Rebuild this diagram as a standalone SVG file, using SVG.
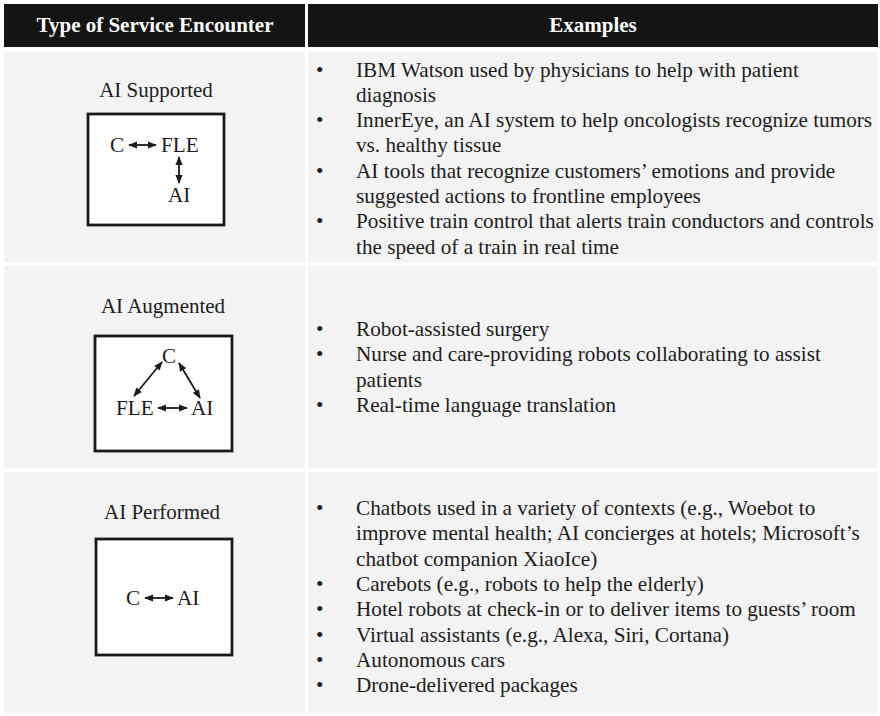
<svg xmlns="http://www.w3.org/2000/svg" width="880" height="716" viewBox="0 0 880 716">
<style>
.hd{fill:#141414}
.cell{fill:#f3f3f3}
.ht{font-family:"Liberation Serif","Times New Roman",serif;font-weight:bold;font-size:21px;fill:#fff;text-anchor:middle}
.t{font-family:"Liberation Serif","Times New Roman",serif;font-size:21.2px;fill:#1c1c1c}
.lb{font-family:"Liberation Serif","Times New Roman",serif;font-size:21px;fill:#1c1c1c;text-anchor:middle}
.box{fill:#fff;stroke:#1a1a1a;stroke-width:2.8}
.ar{stroke:#1a1a1a;stroke-width:1.8;fill:none;marker-start:url(#ah);marker-end:url(#ah)}
</style>
<defs>
<marker id="ah" viewBox="0 0 10 8" refX="9" refY="4" markerWidth="5" markerHeight="4.4" orient="auto-start-reverse"><path d="M0,0L10,4L0,8z" fill="#1a1a1a"/></marker>
</defs>
<rect width="880" height="716" fill="#fff"/>
<g id="header">
<rect class="hd" x="4" y="4" width="301" height="43"/>
<rect class="hd" x="308" y="4" width="570" height="43"/>
<text class="ht" x="155" y="32">Type of Service Encounter</text>
<text class="ht" x="593" y="32">Examples</text>
</g>
<g id="row1">
<rect class="cell" x="4" y="52" width="301" height="210"/>
<rect class="cell" x="308" y="52" width="570" height="210"/>
<text class="lb" x="156" y="97">AI Supported</text>
<g id="box1">
<rect class="box" x="88" y="114" width="136" height="111"/>
<text class="t" x="110" y="152">C</text>
<text class="t" x="161" y="152">FLE</text>
<text class="t" x="168" y="202">AI</text>
</g>
<g class="t">
<text x="316" y="76.5">•</text><text x="356" y="76.5">IBM Watson used by physicians to help with patient</text>
<text x="356" y="101.8">diagnosis</text>
<text x="316" y="127.1">•</text><text x="356" y="127.1">InnerEye, an AI system to help oncologists recognize tumors</text>
<text x="356" y="152.4">vs. healthy tissue</text>
<text x="316" y="177.7">•</text><text x="356" y="177.7">AI tools that recognize customers’ emotions and provide</text>
<text x="356" y="203">suggested actions to frontline employees</text>
<text x="316" y="228.3">•</text><text x="356" y="228.3">Positive train control that alerts train conductors and controls</text>
<text x="356" y="253.6">the speed of a train in real time</text>
</g>
</g>
<g id="row2">
<rect class="cell" x="4" y="266" width="301" height="202"/>
<rect class="cell" x="308" y="266" width="570" height="202"/>
<text class="lb" x="163" y="313">AI Augmented</text>
<g id="box2">
<rect class="box" x="95" y="336" width="137" height="115"/>
<text class="t" x="169" y="363" text-anchor="middle">C</text>
<text class="t" x="116" y="415">FLE</text>
<text class="t" x="191" y="415">AI</text>
</g>
<g class="t">
<text x="316" y="336">•</text><text x="356" y="336">Robot-assisted surgery</text>
<text x="316" y="361.3">•</text><text x="356" y="361.3">Nurse and care-providing robots collaborating to assist</text>
<text x="356" y="386.6">patients</text>
<text x="316" y="411.9">•</text><text x="356" y="411.9">Real-time language translation</text>
</g>
</g>
<g id="row3">
<rect class="cell" x="4" y="472" width="301" height="241"/>
<rect class="cell" x="308" y="472" width="570" height="241"/>
<text class="lb" x="162" y="519">AI Performed</text>
<g id="box3">
<rect class="box" x="96" y="539" width="136" height="116"/>
<text class="t" x="126" y="605">C</text>
<text class="t" x="177" y="605">AI</text>
</g>
<g class="t">
<text x="316" y="515">•</text><text x="356" y="515">Chatbots used in a variety of contexts (e.g., Woebot to</text>
<text x="356" y="540.3">improve mental health; AI concierges at hotels; Microsoft’s</text>
<text x="356" y="565.6">chatbot companion XiaoIce)</text>
<text x="316" y="590.9">•</text><text x="356" y="590.9">Carebots (e.g., robots to help the elderly)</text>
<text x="316" y="616.2">•</text><text x="356" y="616.2">Hotel robots at check-in or to deliver items to guests’ room</text>
<text x="316" y="641.5">•</text><text x="356" y="641.5">Virtual assistants (e.g., Alexa, Siri, Cortana)</text>
<text x="316" y="666.8">•</text><text x="356" y="666.8">Autonomous cars</text>
<text x="316" y="692.1">•</text><text x="356" y="692.1">Drone-delivered packages</text>
</g>
</g>
<g id="connectors">
<line class="ar" x1="129" y1="145" x2="156" y2="145"/>
<line class="ar" x1="179" y1="157" x2="179" y2="183"/>
<line class="ar" x1="162" y1="362" x2="134" y2="396"/>
<line class="ar" x1="179" y1="363" x2="200" y2="398"/>
<line class="ar" x1="158" y1="408" x2="187" y2="408"/>
<line class="ar" x1="145" y1="598" x2="173" y2="598"/>
</g>
</svg>
